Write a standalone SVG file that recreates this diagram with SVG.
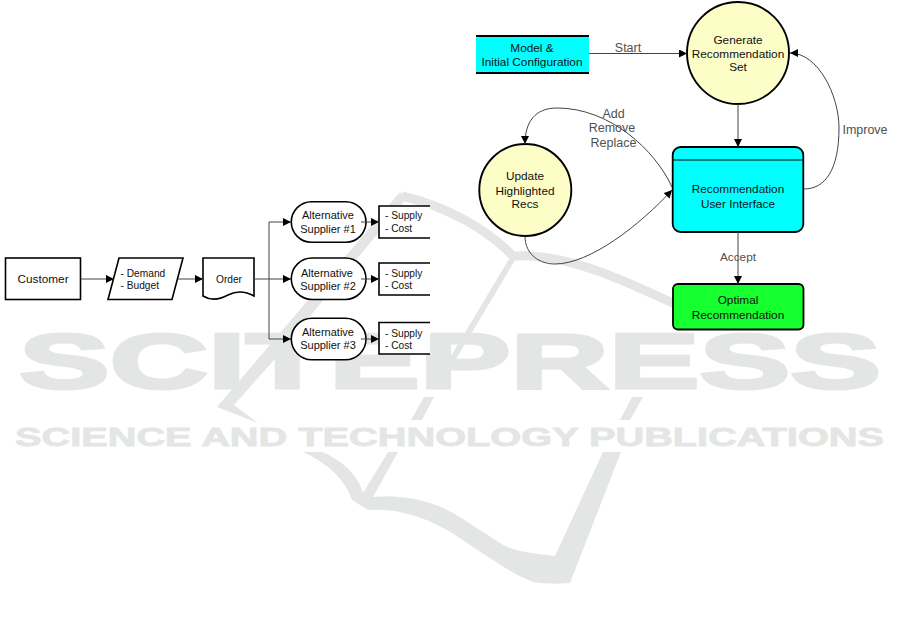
<svg xmlns="http://www.w3.org/2000/svg" width="903" height="620" viewBox="0 0 903 620">
<style>
text{font-family:"Liberation Sans",Arial,sans-serif;fill:#111;text-anchor:middle}
.l{text-anchor:start}
.f10{font-size:10.2px}.f11{font-size:11px}.f12{font-size:11.8px}.lab{font-size:12.5px;fill:#505050}
.wm{fill:#e4e6e5;stroke:#e4e6e5;font-family:"Liberation Sans",sans-serif;font-weight:bold;text-anchor:start}
.box{fill:#fff;stroke:#000;stroke-width:1.6}
.circ{fill:#fdfdc8;stroke:#000;stroke-width:1.9}
.c{fill:none;stroke:#444;stroke-width:1;marker-end:url(#a)}
.n{fill:none;stroke:#444;stroke-width:1}
</style>
<defs>
<marker id="a" markerUnits="userSpaceOnUse" markerWidth="9" markerHeight="8" refX="8" refY="4" orient="auto"><path d="M0,0L8,4L0,8Z" fill="#000"/></marker>
</defs>
<g id="watermark">
<text class="wm" x="19" y="387.500" font-size="78" stroke-width="3" textLength="862" lengthAdjust="spacingAndGlyphs">SCITEPRESS</text>
<text class="wm" x="15" y="445.500" font-size="25.500" stroke-width="0.8" textLength="869" lengthAdjust="spacingAndGlyphs">SCIENCE AND TECHNOLOGY PUBLICATIONS</text>
<path fill="#e4e6e5" d="M400,192L217,407L258,423L234,405L274,360L407,198Z"/>
<path fill="none" stroke="#e4e6e5" stroke-width="9" d="M402,196C450,207 490,232 513,256C565,252 625,280 700,316"/>
<path fill="none" stroke="#e4e6e5" stroke-width="6" d="M513,258L440,380"/>
<path fill="#e4e6e5" d="M424,397L434,397L422,420L411,420ZM632,397L643,397L630,420L620,420Z"/>
<path fill="#e4e6e5" d="M303,452C325,462 345,478 352,500L368,510C395,508 420,515 447,530C465,541 480,552 493,560C508,570 520,577 533,582C545,584 558,584 570,583L621,452L603,452L555,556C530,553 515,552 500,543C480,530 465,520 453,513C430,500 400,494 373,497L398,452L388,452L363,493C358,475 342,460 322,452Z"/>
</g>
<g id="customer"><rect class="box" x="5.500" y="258" width="75" height="41.500"/><text class="f12" x="43" y="283">Customer</text></g>
<g id="demand"><path class="box" d="M119,258H183L172,299.500H108Z"/><text class="f10 l" x="120.500" y="277">- Demand</text><text class="f10 l" x="120.500" y="289">- Budget</text></g>
<g id="order"><path class="box" d="M203,258H254V296C245,291 236,291 228,295C219,300 211,301 203,296Z"/><text class="f10" x="229" y="283">Order</text></g>
<g id="alt1"><rect class="box" x="291.300" y="201.700" width="74.700" height="40.600" rx="20.300"/><text class="f11" x="328" y="219">Alternative</text><text class="f11" x="328" y="232.700">Supplier #1</text></g>
<g id="alt2"><rect class="box" x="291.300" y="258" width="74.700" height="41.500" rx="20.700"/><text class="f11" x="327" y="276.700">Alternative</text><text class="f11" x="328" y="290">Supplier #2</text></g>
<g id="alt3"><rect class="box" x="291.300" y="318.300" width="74.700" height="41.500" rx="20.700"/><text class="f11" x="328" y="336">Alternative</text><text class="f11" x="328" y="349">Supplier #3</text></g>
<g id="sup1"><path class="box" d="M430,206H379V238H430"/><text class="f10 l" x="385" y="219">- Supply</text><text class="f10 l" x="385" y="232">- Cost</text></g>
<g id="sup2"><path class="box" d="M430,263H379V295H430"/><text class="f10 l" x="385" y="277">- Supply</text><text class="f10 l" x="385" y="289">- Cost</text></g>
<g id="sup3"><path class="box" d="M430,322.500H379V354H430"/><text class="f10 l" x="385" y="336.700">- Supply</text><text class="f10 l" x="385" y="349">- Cost</text></g>
<g id="model"><rect x="476" y="36" width="113" height="37" fill="#00ffff"/><path d="M476,36H589M476,73H589" stroke="#000" stroke-width="1.800"/><text class="f12" x="532" y="52">Model &amp;</text><text class="f12" x="532" y="66">Initial Configuration</text></g>
<g id="generate"><circle class="circ" cx="738" cy="53" r="51"/><text class="f12" x="738" y="44">Generate</text><text class="f12" x="738" y="57.500">Recommendation</text><text class="f12" x="738" y="71">Set</text></g>
<g id="update"><circle class="circ" cx="525.300" cy="190" r="46"/><text class="f12" x="525" y="179.500">Update</text><text class="f12" x="525" y="194.500">Highlighted</text><text class="f12" x="525" y="208">Recs</text></g>
<g id="ui"><rect x="672.700" y="147" width="130.600" height="85" rx="8" fill="#00ffff" stroke="#000" stroke-width="1.800"/><path d="M673,160H803" stroke="#000" stroke-width="1"/><text class="f12" x="738" y="193.300">Recommendation</text><text class="f12" x="738" y="208">User Interface</text></g>
<g id="optimal"><rect x="673" y="284" width="130.500" height="45.500" rx="5" fill="#16ff2e" stroke="#000" stroke-width="1.800"/><text class="f12" x="738" y="303.500">Optimal</text><text class="f12" x="738" y="318.700">Recommendation</text></g>
<g id="connectors">
<path class="c" d="M81,279H114"/>
<path class="c" d="M178,279H203"/>
<path class="n" d="M269,222V339"/>
<path class="c" d="M269,222H291"/><path class="c" d="M254,279H291"/><path class="c" d="M269,339H291"/>
<path class="c" d="M361,222H379"/><path class="c" d="M361,279H379"/><path class="c" d="M361,339H379"/>
<path class="c" d="M589,53.500H687"/>
<path class="c" d="M738,104V147"/>
<path class="c" d="M738,232V284"/>
<path class="c" d="M804,189C825,189 839,170 839,128C839,95 818,53 790,53"/>
<path class="c" d="M672,187C655,150 610,108 557,108C535,108 525,122 525,144"/>
<path class="c" d="M525,236C525,255 540,264 555,264C590,264 640,225 672,190"/>
</g>
<g id="labels">
<text class="lab" x="628" y="52">Start</text>
<text class="lab" x="613.500" y="118">Add</text>
<text class="lab" x="612" y="132">Remove</text>
<text class="lab" x="613.500" y="147">Replace</text>
<text class="lab" x="865" y="133.500">Improve</text>
<text class="lab" x="738" y="261" style="font-size:11.800px">Accept</text>
</g>
</svg>
